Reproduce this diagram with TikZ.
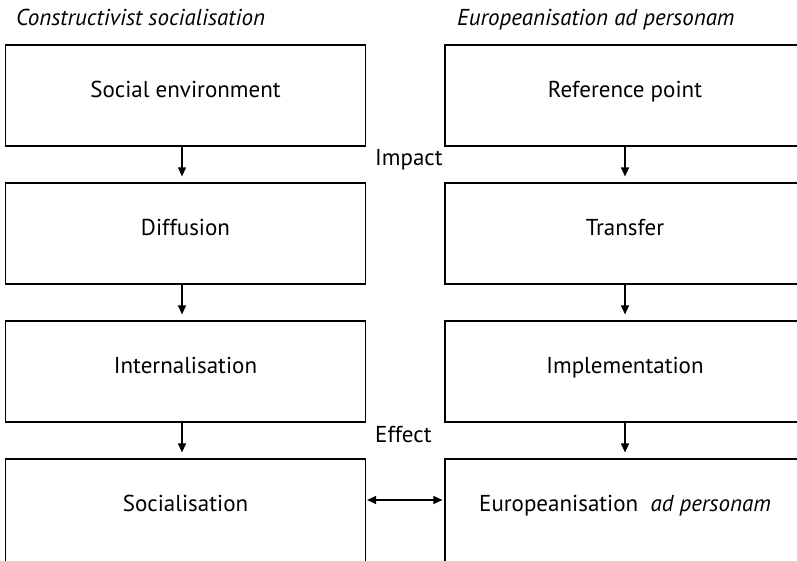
\documentclass[tikz,border=0pt]{standalone}
\usepackage{fontspec}
\setmainfont{PT Sans}
\usetikzlibrary{arrows.meta}

\begin{document}
\begin{tikzpicture}[x=1pt,y=-1pt,
        font=\fontsize{23}{27}\selectfont,
        box/.style={draw, line width=1.2pt, minimum width=360pt, minimum height=101pt,
            inner sep=0pt, text height=8pt, text depth=4pt},
        lastbox/.style={box, minimum height=121pt, text depth=25pt},
        arr/.style={line width=1.2pt, -{Triangle[length=9pt,width=8pt]}, shorten >=6pt},
        lbl/.style={anchor=base west, inner sep=0pt}]
        \useasboundingbox (0,0) rectangle (797,560);
        \clip (0,0) rectangle (797,560);
        \node[lbl] (ttl) at (16,25) {\itshape Constructivist socialisation};
        \node[lbl] (ttr) at (457,25) {\itshape Europeanisation ad personam};
        \node[box] (s1) at (185.5,95.5) {Social environment};
        \node[box] (s2) at (185.5,233.5) {Diffusion};
        \node[box] (s3) at (185.5,371.5) {Internalisation};
        \node[lastbox] (s4) at (185.5,519.5) {Socialisation};
        \node[box] (e1) at (625,95.5) {Reference point};
        \node[box] (e2) at (625,233.5) {Transfer};
        \node[box] (e3) at (625,371.5) {Implementation};
        \node[lastbox] (e4) at (625,519.5) {Europeanisation \ \textit{ad personam}};
        \foreach \a/\b/\d in {s1/s2/-3.5, s2/s3/-3.5, s3/s4/-3.5, e1/e2/0, e2/e3/0, e3/e4/0} {
                \draw[arr] ([xshift=\d pt]\a.south) -- ([xshift=\d pt]\b.north);
            }
        \draw[arr, {Triangle[length=9pt,width=8pt]}-{Triangle[length=9pt,width=8pt]}, shorten >=2pt, shorten <=1pt]
            ([yshift=19.5pt]s4.east) -- ([yshift=19.5pt]e4.west);
        \node[lbl] (imp) at (375,165) {Impact};
        \node[lbl] (eff) at (375,442) {Effect};
    \end{tikzpicture}
\end{document}
